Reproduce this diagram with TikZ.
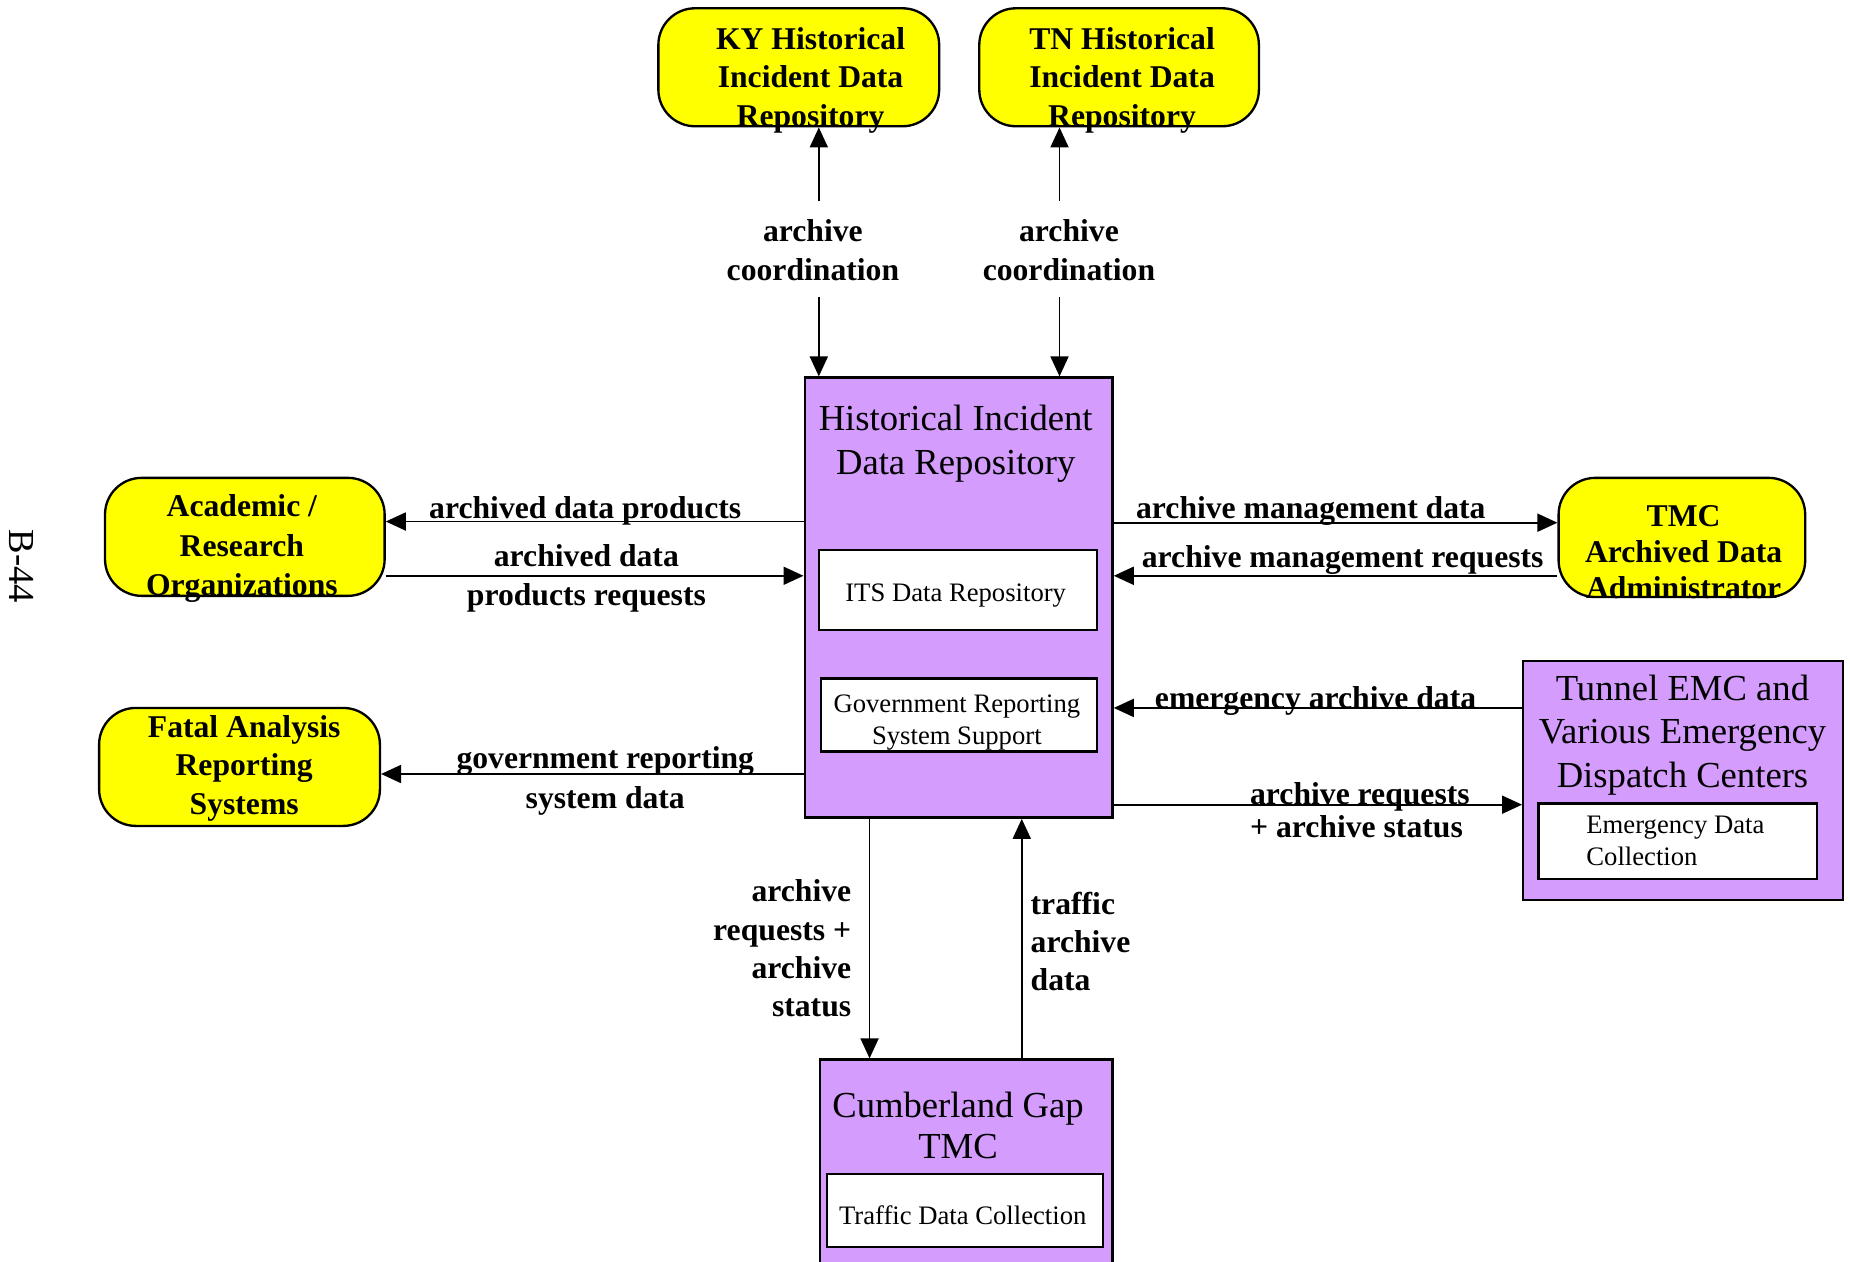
\documentclass[tikz,border=0pt]{standalone}
\usepackage{fontspec}
\setmainfont{Liberation Serif}
\usetikzlibrary{arrows.meta}
\definecolor{ExtYellow}{HTML}{FFFF00}
\definecolor{SysPurple}{HTML}{D49CFC}
\newdimen\px \px=0.354pt

\begin{document}
\begin{tikzpicture}[x=\px,y=-\px,
    extbox/.style={draw=black,line width=0.7pt,fill=ExtYellow,rounded corners=11pt,inner sep=0pt},
    sysbox/.style={draw=black,line width=0.7pt,fill=SysPurple,inner sep=0pt},
    subbox/.style={draw=black,line width=0.7pt,fill=white,inner sep=0pt},
    subtext/.style={align=center,inner sep=0pt,font=\fontsize{8}{9.6}\selectfont},
    exttext/.style={align=center,inner sep=0pt,font=\fontsize{9.5}{11.6}\selectfont\bfseries},
    systitle/.style={align=center,inner sep=0pt,font=\fontsize{11}{13.3}\selectfont},
    flowlabel/.style={align=center,inner sep=0pt,font=\fontsize{9.5}{11.5}\selectfont\bfseries},
    arrow/.style={-{Triangle[length=6pt,width=5.4pt]},line width=0.55pt}
  ]
    \useasboundingbox (0,0) rectangle (1568,1069);

    % terminators
    \node[extbox,minimum width=238\px,minimum height=100\px] (ky) at (677,57) {};
    \node[exttext] (kytext) at (687,68) {KY Historical\\Incident Data\\Repository};
    \node[extbox,minimum width=237\px,minimum height=100\px] (tn) at (948.5,57) {};
    \node[exttext] (tntext) at (951,68) {TN Historical\\Incident Data\\Repository};
    \node[extbox,minimum width=237\px,minimum height=100\px] (acad) at (207.5,455) {};
    \node[exttext,font=\fontsize{9.5}{11.9}\selectfont\bfseries] (acadtext) at (205,465)
      {Academic /\\Research\\Organizations};
    \node[extbox,minimum width=238\px,minimum height=100\px] (fatal) at (203,650) {};
    \node[exttext] (fataltext) at (207,651) {Fatal Analysis\\Reporting\\Systems};
    \node[extbox,minimum width=209\px,minimum height=101\px] (tmc) at (1425.5,455.5) {};
    \node[exttext,font=\fontsize{9.5}{10.9}\selectfont\bfseries] (tmctext) at (1427,468)
      {TMC\\Archived Data\\Administrator};

    % subsystems
    \node[sysbox,minimum width=261\px,minimum height=373\px] (main) at (812.5,506.5) {};
    \node[systitle] (maintitle) at (810,376) {Historical Incident\\Data Repository};
    \node[subbox,minimum width=236\px,minimum height=68\px] (its) at (812,500) {};
    \node[subtext] (itstext) at (810,505) {ITS Data Repository};
    \node[subbox,minimum width=234\px,minimum height=62\px] (gov) at (813,606) {};
    \node[subtext] (govtext) at (811,612) {Government Reporting\\System Support};

    \node[sysbox,minimum width=271\px,minimum height=203\px] (tunnel) at (1426.5,661.5) {};
    \node[systitle,font=\fontsize{11}{13.1}\selectfont] (tunneltitle) at (1426,623)
      {Tunnel EMC and\\Various Emergency\\Dispatch Centers};
    \node[subbox,minimum width=236\px,minimum height=64\px] (emerg) at (1422,713) {};
    \node[subtext,align=left] (emergtext) at (1420,713) {Emergency Data\\Collection};

    \node[sysbox,minimum width=248\px,minimum height=182\px] (cumb) at (819,989) {};
    \node[systitle,font=\fontsize{11}{12.4}\selectfont] (cumbtitle) at (812,954)
      {Cumberland Gap\\TMC};
    \node[subbox,minimum width=234\px,minimum height=62\px] (traffic) at (818,1026) {};
    \node[subtext] (traffictext) at (816,1030) {Traffic Data Collection};

    \node[rotate=-90,font=\fontsize{11}{13}\selectfont] (page) at (18,480) {B-44};

    % flow rows and columns
    \coordinate (rowA) at (0,442);
    \coordinate (rowB) at (0,488);
    \coordinate (rowC) at (0,656);
    \coordinate (rowD) at (0,600);
    \coordinate (rowE) at (0,682);
    \coordinate (rowF) at (0,443);
    \coordinate (colA) at (737,0);
    \coordinate (colB) at (866,0);
    \coordinate (kyup) at (694,170);
    \coordinate (kydn) at (694,252);
    \coordinate (tnup) at (898,170);
    \coordinate (tndn) at (898,252);

    % flows
    \draw[arrow] (kyup) -- (kyup |- ky.south);
    \draw[arrow] (kydn) -- (kydn |- main.north);
    \draw[arrow] (tnup) -- (tnup |- tn.south);
    \draw[arrow] (tndn) -- (tndn |- main.north);
    \node[flowlabel] (kyflow) at (689,212) {archive\\coordination};
    \node[flowlabel] (tnflow) at (906,212) {archive\\coordination};

    \draw[arrow] (main.west |- rowA) -- (acad.east |- rowA);
    \draw[arrow] (acad.east |- rowB) -- (main.west |- rowB);
    \draw[arrow] (main.west |- rowC) -- (fatal.east |- rowC);
    \node[flowlabel] (prodflow) at (496,433) {archived data products};
    \node[flowlabel,font=\fontsize{9.5}{11.7}\selectfont\bfseries] (reqflow) at (497,490)
      {archived data\\products requests};
    \node[flowlabel,font=\fontsize{9.5}{12}\selectfont\bfseries] (govflow) at (513,662)
      {government reporting\\system data};

    \draw[arrow] (main.east |- rowF) -- (tmc.west |- rowF);
    \draw[arrow] (tmc.west |- rowB) -- (main.east |- rowB);
    \draw[arrow] (tunnel.west |- rowD) -- (main.east |- rowD);
    \draw[arrow] (main.east |- rowE) -- (tunnel.west |- rowE);
    \node[flowlabel] (mgmtflow) at (1111,433) {archive management data};
    \node[flowlabel] (mreqflow) at (1138,475) {archive management requests};
    \node[flowlabel] (emflow) at (1115,594) {emergency archive data};
    \node[flowlabel,align=left,anchor=west,font=\fontsize{9.5}{9.9}\selectfont\bfseries]
      (arsflow) at (1059,687) {archive requests\\+ archive status};

    \draw[arrow] (colA |- main.south) -- (colA |- cumb.north);
    \draw[arrow] (colB |- cumb.north) -- (colB |- main.south);
    \node[flowlabel,align=right,anchor=east] (downflow) at (722,804)
      {archive\\requests +\\archive\\status};
    \node[flowlabel,align=left,anchor=west] (upflow) at (873,798)
      {traffic\\archive\\data};
\end{tikzpicture}
\end{document}
